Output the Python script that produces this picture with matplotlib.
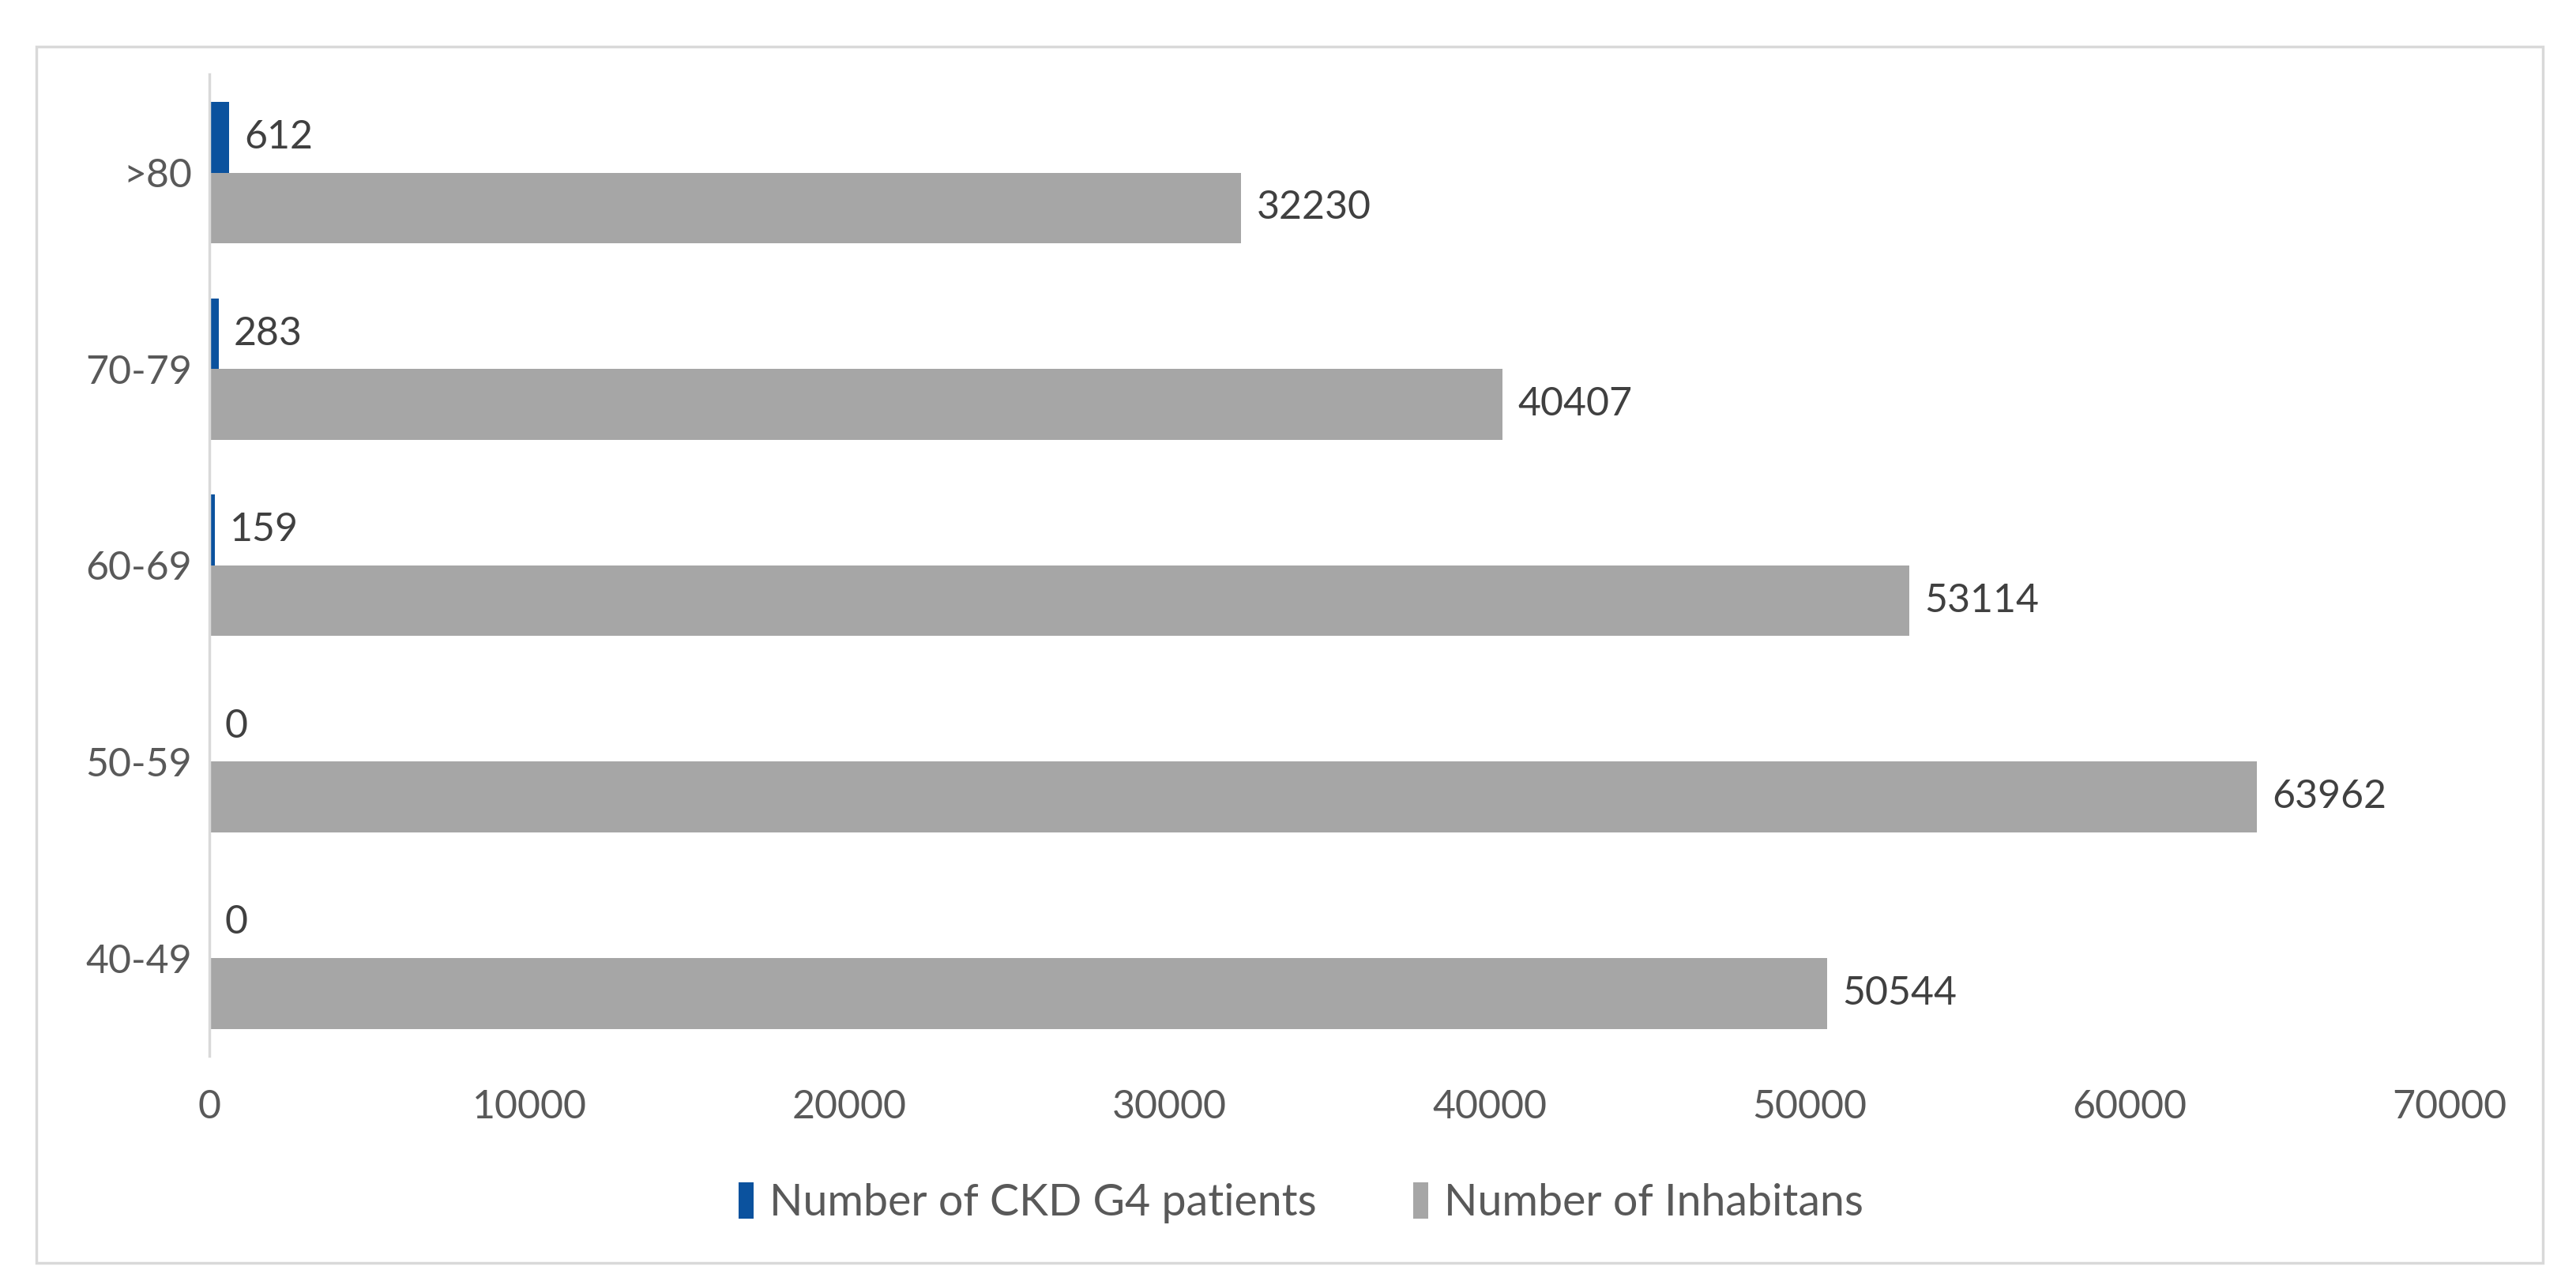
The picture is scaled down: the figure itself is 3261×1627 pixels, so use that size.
import matplotlib.pyplot as plt
import matplotlib.patches as patches
import numpy as np

# age groups, bottom to top
groups = ['40-49', '50-59', '60-69', '70-79', '>80']
ckd_g4 = [0, 0, 159, 283, 612]
inhabitants = [50544, 63962, 53114, 40407, 32230]
xticks = [0, 10000, 20000, 30000, 40000, 50000, 60000, 70000]

blue = '#0b529e'
gray = '#a6a6a6'
txt = '#404040'

plt.rcParams['font.family'] = ['Lato', 'DejaVu Sans']

fig = plt.figure(figsize=(32.61, 16.27), dpi=100)
ax = fig.add_axes([0.0813, 0.178, 0.8697, 0.764])

# outer frame like the excel chart area
fig.patches.append(patches.Rectangle((0.014, 0.017), 0.973, 0.947, transform=fig.transFigure,
                                     fill=False, edgecolor='#d9d9d9', lw=2.5))

y = np.arange(len(groups))
h = 0.36
b1 = ax.barh(y + h / 2, ckd_g4, height=h, color=blue, label='Number of CKD G4 patients')
b2 = ax.barh(y - h / 2, inhabitants, height=h, color=gray, label='Number of Inhabitans')

ax.bar_label(b1, labels=[str(v) for v in ckd_g4], padding=14, fontsize=36, color=txt)
ax.bar_label(b2, labels=[str(v) for v in inhabitants], padding=14, fontsize=36, color=txt)

ax.set_xlim(0, 70000)
ax.set_ylim(-0.5, 4.5)
ax.set_xticks(xticks)
ax.set_xticklabels([str(t) for t in xticks])
ax.set_yticks(y)
ax.set_yticklabels(groups)
ax.tick_params(axis='x', length=0, pad=30, labelsize=36, labelcolor='#595959')
ax.tick_params(axis='y', length=0, pad=16, labelsize=36, labelcolor='#595959')

for s in ['top', 'right', 'bottom']:
    ax.spines[s].set_visible(False)
ax.spines['left'].set_color('#d9d9d9')
ax.spines['left'].set_linewidth(2.5)

fig.legend(handles=[b1, b2], loc='center', bbox_to_anchor=(0.505, 0.064), ncol=2, frameon=False,
           fontsize=40, labelcolor='#595959', handlelength=0.35, handleheight=0.9,
           handletextpad=0.35, columnspacing=2.2)

fig.savefig('out.png', dpi=100)
